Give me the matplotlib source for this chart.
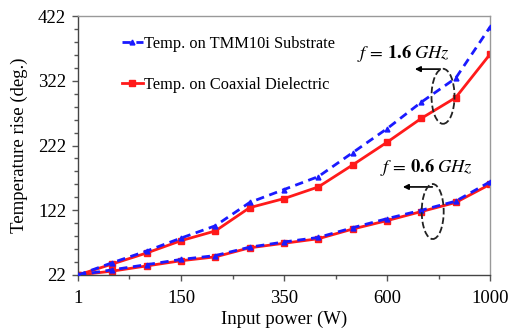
import matplotlib
matplotlib.use("Agg")
import matplotlib.pyplot as plt
from matplotlib.patches import Ellipse
from matplotlib.ticker import FixedLocator
import numpy as np

plt.rcParams['font.family'] = ['Liberation Serif', 'DejaVu Serif']
plt.rcParams['mathtext.fontset'] = 'stix'

# category positions (13 measurement points), labelled every third one
n_points = 13
tick_labels = ["1", "150", "350", "600", "1000"]

tmm_16 = [22, 41, 59, 79, 98, 134, 154, 174, 211, 248, 289, 326, 405]
coax_16 = [22, 39, 56, 75, 90, 126, 140, 158, 192, 227, 264, 296, 363]
tmm_06 = [22, 30, 38, 46, 52, 65, 73, 80, 95, 109, 122, 136, 166]
coax_06 = [22, 28, 36, 44, 50, 64, 71, 78, 93, 106, 120, 134, 162]

x = np.arange(n_points)

fig = plt.figure(figsize=(5.11, 3.28), dpi=100)
ax = fig.add_axes([0.1526, 0.1616, 0.8064, 0.7896])

blue = '#1a1aff'
red = '#ff1a1a'
l1, = ax.plot(x, tmm_16, color=blue, ls='--', lw=2, marker='^', ms=3.5,
              label='Temp. on TMM10i Substrate', zorder=3, dashes=(3, 2))
l2, = ax.plot(x, coax_16, color=red, ls='-', lw=2, marker='s', ms=5,
              label='Temp. on Coaxial Dielectric', zorder=2)
ax.plot(x, tmm_06, color=blue, ls='--', lw=2, marker='^', ms=3.5, zorder=3, dashes=(3, 2))
ax.plot(x, coax_06, color=red, ls='-', lw=2, marker='s', ms=5, zorder=2)

ax.set_xlim(0, 12)
ax.set_ylim(22, 422)
ax.xaxis.set_major_locator(FixedLocator([0, 3, 6, 9, 12]))
ax.set_xticklabels(tick_labels)
ax.xaxis.set_minor_locator(FixedLocator([1.5, 4.5, 7.5, 10.5]))
ax.yaxis.set_major_locator(FixedLocator([22, 122, 222, 322, 422]))
ax.yaxis.set_minor_locator(FixedLocator(np.arange(22, 423, 20)))

ax.tick_params(axis='both', which='major', direction='out', length=4.5, width=1,
               color='#555555', labelsize=13.5)
ax.tick_params(axis='x', which='major', pad=6)
ax.tick_params(axis='y', which='major', pad=4)
ax.tick_params(axis='both', which='minor', direction='out', length=3, width=1,
               color='#555555')
for side in ['top', 'right']:
    ax.spines[side].set_color('#999999')
for side in ['left', 'bottom']:
    ax.spines[side].set_color('#444444')
for s in ax.spines.values():
    s.set_linewidth(1)

ax.set_xlabel('Input power (W)', fontsize=13.5, labelpad=3)
ax.set_ylabel('Temperature rise (deg.)', fontsize=13.5, labelpad=7)

leg = ax.legend(handles=[l1, l2], loc='upper left', bbox_to_anchor=(0.09, 0.95),
                frameon=False, fontsize=11.8, handlelength=1.3, handletextpad=0.05,
                labelspacing=1.55, borderaxespad=0)

# annotations
ax.text(9.47, 364, r'$f\,=\,\mathbf{1.6}\;GHz$', fontsize=13.3, ha='center', va='center')
ax.annotate('', xy=(9.73, 340), xytext=(10.63, 340),
            arrowprops=dict(arrowstyle='-|>', color='black', lw=1.2, mutation_scale=8))
ax.add_patch(Ellipse((10.63, 298), 0.67, 85, fill=False, ls='--', lw=1.3, ec='#222222', zorder=4))

ax.text(10.14, 188, r'$f\,=\,\mathbf{0.6}\;GHz$', fontsize=13.3, ha='center', va='center')
ax.annotate('', xy=(9.38, 158), xytext=(10.4, 158),
            arrowprops=dict(arrowstyle='-|>', color='black', lw=1.2, mutation_scale=8))
ax.add_patch(Ellipse((10.33, 120), 0.64, 85, fill=False, ls='--', lw=1.3, ec='#222222', zorder=4))

fig.savefig('out.png', dpi=100)
